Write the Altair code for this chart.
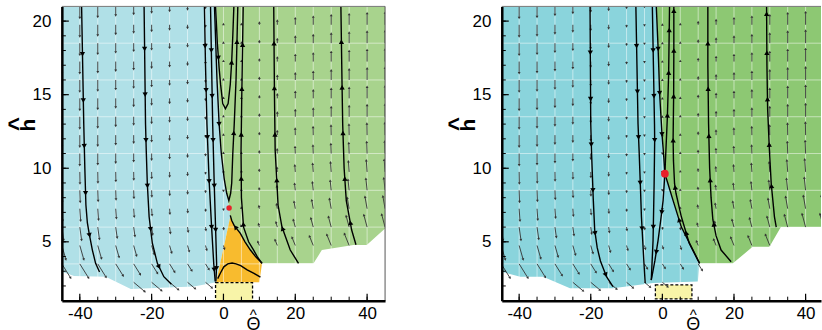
import math
import pandas as pd
import altair as alt

FONT = "Liberation Sans"
H_DOM = [1, 21]
PLOT_H = 295

# ---------------- left panel ----------------
L_XDOM = [-45, 45]
L_W = 324
L_BLUE = [(-45, 21), (-2.0, 21), (-1.4, 16), (-0.9, 13), (-0.5, 11), (0.3, 9.3), (1.0, 8.2), (1.6, 7.3),
          (1.9, 6.7), (0.1, 4.66), (-1.3, 3.1), (-2.0, 2.25), (-8.25, 1.96), (-15.6, 1.9), (-25.8, 1.8),
          (-32.8, 2.63), (-41.6, 2.68), (-45, 2.97)]
L_GREEN = [(-2.0, 21), (45, 21), (45, 5.9), (39.9, 4.78), (36.2, 4.78), (27.4, 4.44), (25.1, 3.54),
           (10.75, 3.54), (7.5, 4.44), (4.7, 5.57), (3.0, 6.1), (1.9, 6.7), (1.6, 7.3), (1.0, 8.2),
           (0.3, 9.3), (-0.5, 11), (-0.9, 13), (-1.4, 16)]
L_ORANGE = [(1.9, 6.7), (3.0, 6.1), (4.7, 5.57), (7.5, 4.44), (10.75, 3.54), (10.0, 2.25), (-2.0, 2.25),
            (-1.3, 3.1), (0.1, 4.66)]
L_BOX = [-2.2, 8.1, 1.0, 2.23]
L_SADDLE = [1.57, 7.3]
L_STREAMS = {
    "a1": [(-39.5, 21), (-39.2, 17), (-38.9, 13), (-38.6, 10), (-38.3, 7.5), (-37.9, 6.3), (-37.4, 5.57),
           (-36.5, 4.44), (-35.6, 3.54), (-34.5, 2.95)],
    "a2": [(-22.1, 21), (-21.9, 17), (-21.7, 13), (-21.5, 11.2), (-21.2, 8.95), (-20.7, 6.7), (-19.8, 4.9),
           (-18.4, 3.54), (-16.6, 2.63), (-14.5, 2.12)],
    "a3": [(-5.3, 21), (-5.0, 17), (-4.6, 13), (-4.0, 9.2), (-3.3, 6.0), (-2.7, 3.5), (-2.3, 2.3)],
    "a4": [(-3.6, 21), (-3.3, 17), (-3.0, 13), (-2.6, 9.2), (-2.2, 6.0), (-1.9, 3.5), (-2.1, 2.3)],
    "a5": [(-2.5, 21), (-1.8, 16), (-1.2, 13), (-0.6, 11), (0.2, 9.3), (0.9, 8.3), (1.5, 7.8), (2.0, 8.3),
           (2.3, 9.0), (2.6, 11), (3.0, 13), (3.5, 16), (4.0, 21)],
    "a6": [(-2.2, 21), (-1.7, 18.5), (-1.2, 16.8), (-0.8, 15.7), (-0.2, 14.4), (0.55, 14.05), (1.3, 14.4),
           (1.9, 15.7), (2.3, 17.3), (2.6, 19), (2.9, 21)],
    "a7": [(10.75, 3.54), (9.5, 3.95), (8.4, 4.44), (7.0, 5.0), (5.6, 6.0), (5.0, 8.0), (4.9, 11.2),
           (5.1, 15), (5.5, 21)],
    "a8": [(10.75, 3.54), (9.0, 3.98), (7.5, 4.44), (6.0, 5.0), (4.7, 5.57), (3.0, 6.1), (2.3, 6.45),
           (1.9, 6.8)],
    "a9": [(-1.6, 2.5), (-0.8, 2.9), (0.1, 3.3), (1.2, 3.5), (2.4, 3.56), (3.5, 3.5), (4.8, 3.38),
           (6.6, 3.1), (8.5, 2.85), (10.3, 2.6)],
    "a10": [(20.9, 3.54), (18.6, 4.44), (16.3, 6.0), (15.2, 7.5), (14.9, 8.95), (14.4, 11.2), (14.2, 15),
            (14.0, 21)],
    "a11": [(36.9, 4.8), (35.7, 5.8), (34.8, 7.0), (34.2, 7.8), (33.6, 10), (33.2, 13), (33.0, 16),
            (32.7, 21)],
}
L_HEADS = [("a1", 17.75), ("a1", 14.6), ("a1", 11.5), ("a1", 8.3), ("a1", 5.45),
           ("a2", 18.1), ("a2", 15.0), ("a2", 11.9), ("a2", 8.8), ("a2", 5.85), ("a2", 3.3),
           ("a3", 18.3), ("a3", 15.3), ("a3", 12.1), ("a3", 9.1), ("a3", 6.0), ("a3", 3.1),
           ("a4", 18.0), ("a4", 14.9), ("a4", 11.9), ("a4", 8.8), ("a4", 5.8), ("a4", 3.2),
           ("a5", 13.0, 0), ("a5", 12.4, 1), ("a5", 18.6, 1),
           ("a6", 17.5, 0), ("a6", 17.2, 1),
           ("a7", 6.2), ("a7", 9.3), ("a7", 12.3), ("a7", 15.4), ("a7", 18.4),
           ("a8", 6.0),
           ("a10", 5.9), ("a10", 9.2), ("a10", 12.3), ("a10", 15.45), ("a10", 18.5),
           ("a11", 6.3), ("a11", 9.3), ("a11", 12.4), ("a11", 15.5), ("a11", 18.6)]
L_LENS = [13, 13, 12, 10.5, 9, 7.5, 6, 4.5, 3, 2, 2, 3.5, 5.5, 8, 9.5, 11, 12, 13, 13.5]

# ---------------- right panel ----------------
R_XDOM = [-44.85, 44.3]
R_W = 320
R_BLUE = [(-44.85, 21), (-1.7, 21), (-1.2, 18.2), (-0.75, 15), (-0.1, 12.3), (0.5, 10.5), (0.7, 9.63),
          (3.0, 7.8), (5.3, 6.0), (8.1, 4.66), (10.4, 3.54), (9.9, 2.3), (-2.6, 2.2), (-13.8, 1.85),
          (-25.8, 1.85), (-33.3, 2.63), (-39.7, 2.63), (-44.85, 2.97)]
R_GREEN = [(-1.7, 21), (44.3, 21), (44.3, 6.0), (33.1, 6.0), (29.9, 4.66), (25.2, 4.66), (19.7, 3.54),
           (10.4, 3.54), (8.1, 4.66), (5.3, 6.0), (3.0, 7.8), (0.7, 9.63), (0.5, 10.5), (-0.1, 12.3),
           (-0.75, 15), (-1.2, 18.2)]
R_BOX = [-1.95, 8.25, 1.12, 2.07]
R_SADDLE = [0.7, 9.63]
R_STREAMS = {
    "b1": [(-20.2, 21), (-20.1, 17), (-20.0, 13), (-19.8, 11.2), (-19.3, 7.9), (-18.9, 5.8), (-18.2, 4.6),
           (-17.3, 3.7), (-15.6, 2.63), (-13.8, 1.96)],
    "b2": [(-7.4, 21), (-7.1, 17), (-6.8, 13), (-6.5, 11.2), (-6.1, 8.5), (-5.85, 6.7), (-5.2, 3.8),
           (-4.8, 2.2)],
    "b3": [(-2.8, 21), (-2.5, 17), (-2.2, 13), (-2.15, 11.9), (-2.3, 9.0), (-2.6, 5.1), (-3.1, 2.4)],
    "b4": [(-1.7, 21), (-1.2, 18.2), (-0.75, 15), (-0.1, 12.3), (0.4, 10.75), (0.7, 9.63)],
    "b5": [(0.7, 9.63), (0.2, 7.8), (-0.5, 6.4), (-1.2, 5.1), (-2.1, 3.7), (-3.1, 2.4)],
    "b6": [(0.7, 9.63), (0.9, 10.75), (1.4, 13.5), (1.75, 16.4), (2.0, 21)],
    "b7": [(10.4, 3.54), (8.1, 4.66), (5.3, 6.0), (3.0, 7.8), (1.5, 9.0), (0.7, 9.63)],
    "b8": [(10.4, 3.54), (9.9, 3.76), (7.5, 4.9), (5.3, 6.7), (3.8, 8.3), (3.4, 8.95), (3.1, 10.5),
           (3.0, 12), (3.15, 15), (3.2, 18), (3.2, 21)],
    "b9": [(19.2, 3.65), (16.4, 4.44), (15.0, 5.4), (14.1, 6.5), (13.6, 8), (13.2, 10), (12.9, 13),
           (12.7, 17), (12.7, 21)],
    "b10": [(31.8, 6.0), (31.3, 6.7), (30.4, 8.95), (29.9, 11.2), (29.4, 14), (29.2, 17), (29.1, 21)],
}
R_HEADS = [("b1", 17.85), ("b1", 14.7), ("b1", 11.6), ("b1", 8.5), ("b1", 5.57), ("b1", 2.75),
           ("b2", 18.3), ("b2", 15.2), ("b2", 12.1), ("b2", 9.0), ("b2", 5.9),
           ("b3", 18.0), ("b3", 14.9), ("b3", 11.9), ("b3", 6.0),
           ("b4", 18.1), ("b4", 15.1), ("b4", 12.3),
           ("b5", 7.0), ("b5", 4.3),
           ("b6", 13.6), ("b6", 16.5), ("b6", 19.4),
           ("b7", 6.5),
           ("b8", 5.6), ("b8", 8.7), ("b8", 11.9), ("b8", 14.9), ("b8", 18.0), ("b8", 20.7),
           ("b9", 6.2), ("b9", 9.2), ("b9", 12.2), ("b9", 15.4), ("b9", 18.5),
           ("b10", 8.8), ("b10", 11.6), ("b10", 14.7), ("b10", 17.85), ("b10", 20.5)]
R_LENS = [13, 13, 12, 10, 8, 6.5, 5, 3, 2, 1.5, 2, 4, 6, 8, 9.5, 11, 13, 14, 14]

# ---------------- vector field grid ----------------
COLS = [-45, -40, -35, -30, -25, -20, -15, -10, -5, 0, 5, 10, 15, 20, 25, 30, 35, 40, 45]
H_NODES = [1.0, 2.25, 3.5, 4.75, 6.0, 7.25, 8.5, 9.75, 11.0, 12.25, 13.5, 14.75, 16.0, 17.25, 18.5, 19.75, 21.0]
TILT_BLUE = [60, 50, 32, 16, 8, 4, 2, 1, 0, 0, 0, 0, 0, 0, 0, 0, 0]
EXTRA_BLUE = [8, 7, 5, 3, 1.5, 0.5, 0, 0, 0, 0, 0, 0, 0, 0, 0, 0, 0]
TILT_GREEN = [0, 0, 30, 22, 15, 10, 6, 4, 2, 1, 0, 0, 0, 0, 0, 0, 0]
EXTRA_GREEN = [0, 0, 3, 2, 1, 0.5, 0, 0, 0, 0, 0, 0, 0, 0, 0, 0, 0]

X_TICKS_MINOR = [-40, -35, -30, -25, -20, -15, -10, -5, 0, 5, 10, 15, 20, 25, 30, 35, 40]
X_TICKS_MAJOR = [-40, -20, 0, 20, 40]
Y_TICKS_MINOR = [2, 3, 4, 5, 6, 7, 8, 9, 10, 11, 12, 13, 14, 15, 16, 17, 18, 19, 20]
Y_TICKS_MAJOR = [5, 10, 15, 20]
V_GRID = [-40, -35, -30, -25, -20, -15, -10, -5, 0, 5, 10, 15, 20, 25, 30, 35, 40]
H_GRID = [3.5, 6, 8.5, 11, 13.5, 16, 18.5]

Y_TITLE = "h"
HAT = "^"
X_TITLE = "Θ"


def pip(x, y, poly):
    inside = False
    n = len(poly)
    for i in range(n):
        x1, y1 = poly[i]
        x2, y2 = poly[(i + 1) % n]
        if (y1 > y) != (y2 > y):
            xi = x1 + (y - y1) * (x2 - x1) / (y2 - y1)
            if x < xi:
                inside = not inside
    return inside


def field(xdom, lens, blue, green, sx, sy):
    shafts, heads = [], []
    for th, L0 in zip(COLS, lens):
        tx = min(max(th, xdom[0] + 0.05), xdom[1] - 0.05)
        for ri, h in enumerate(H_NODES):
            if pip(tx, h - 0.01, blue):
                L = L0 + EXTRA_BLUE[ri]
                t = math.radians(TILT_BLUE[ri])
                dxp, dyp = L * math.sin(t), L * math.cos(t)
            elif h < 21 and pip(tx, h + 0.01, green):
                L = L0 + EXTRA_GREEN[ri]
                t = math.radians(TILT_GREEN[ri])
                dxp, dyp = -L * math.sin(t), -L * math.cos(t)
            else:
                continue
            ux, uy = dxp / L, dyp / L
            ex, ey = dxp - 2.0 * ux, dyp - 2.0 * uy
            shafts.append({"x": th, "y": h, "x2": th + ex / sx, "y2": h - ey / sy})
            hx, hy = dxp - 1.3 * ux, dyp - 1.3 * uy
            heads.append({"x": th + hx / sx, "y": h - hy / sy,
                          "ang": math.degrees(math.atan2(dxp, -dyp)) % 360})
    return pd.DataFrame(shafts), pd.DataFrame(heads)


def stream_heads(streams, specs, sx, sy):
    out = []
    for spec in specs:
        sid, hh = spec[0], spec[1]
        k = spec[2] if len(spec) > 2 else 0
        pts = streams[sid]
        c = 0
        for (x1, y1), (x2, y2) in zip(pts[:-1], pts[1:]):
            if y1 != y2 and (y1 - hh) * (y2 - hh) <= 0:
                if c == k:
                    t = (hh - y1) / (y2 - y1)
                    dx = (x2 - x1) * sx
                    dy = -(y2 - y1) * sy
                    out.append({"x": x1 + t * (x2 - x1), "y": hh,
                                "ang": math.degrees(math.atan2(dx, -dy)) % 360})
                    break
                c += 1
    return pd.DataFrame(out)


def poly_df(poly):
    return pd.DataFrame({"x": [p[0] for p in poly], "y": [p[1] for p in poly], "i": list(range(len(poly)))})


def panel(xdom, W, blue, green, cblue, cgreen, orange, box, saddle, dot_size, streams, heads, lens, frame_right):
    sx = W / (xdom[1] - xdom[0])
    sy = PLOT_H / (H_DOM[1] - H_DOM[0])
    xs = alt.Scale(domain=xdom, nice=False, zero=False)
    ys = alt.Scale(domain=H_DOM, nice=False, zero=False)
    xaxis = alt.Axis(values=X_TICKS_MAJOR, title=None, grid=False, ticks=False, tickSize=0, labelPadding=5,
                     labelFontSize=17, labelFont=FONT, labelColor="black", domainColor="black",
                     domainWidth=2.5, labelExpr="'' + datum.value", zindex=1, labelFlush=False)
    yaxis = alt.Axis(values=Y_TICKS_MAJOR, title=None, grid=False, ticks=False, tickSize=0, labelPadding=11,
                     labelFontSize=17, labelFont=FONT, labelColor="black", domainColor="black",
                     domainWidth=2.5, zindex=1, labelFlush=False)
    X = alt.X("x:Q", scale=xs, axis=xaxis)
    Y = alt.Y("y:Q", scale=ys, axis=yaxis)

    layers = []
    for poly, col in [(blue, cblue), (green, cgreen)] + ([(orange, "#f8bb2e")] if orange else []):
        layers.append(alt.Chart(poly_df(poly)).mark_line(fill=col, strokeOpacity=0, fillOpacity=1)
                      .encode(x=X, y=Y, order="i:Q"))
    layers.append(alt.Chart(pd.DataFrame({"x": V_GRID})).mark_rule(color="white", opacity=0.5, strokeWidth=1)
                  .encode(x=X))
    layers.append(alt.Chart(pd.DataFrame({"y": H_GRID})).mark_rule(color="white", opacity=0.5, strokeWidth=1)
                  .encode(y=Y))
    layers.append(alt.Chart(pd.DataFrame({"x": [box[0]], "x2": [box[1]], "y": [box[2]], "y2": [box[3]]}))
                  .mark_rect(fill="#f8f4a8", stroke="black", strokeDash=[3, 2], strokeWidth=1.3)
                  .encode(x=X, x2="x2:Q", y=Y, y2="y2:Q"))
    shafts, vheads = field(xdom, lens, blue, green, sx, sy)
    layers.append(alt.Chart(shafts).mark_rule(color="#333333", strokeWidth=0.9, clip=True)
                  .encode(x=X, x2="x2:Q", y=Y, y2="y2:Q"))
    layers.append(alt.Chart(vheads).mark_point(shape="triangle-up", filled=True, color="#333333", size=8,
                                               opacity=1, clip=True)
                  .encode(x=X, y=Y, angle=alt.Angle("ang:Q", scale=None)))
    rows = []
    for sid, pts in streams.items():
        for i, (a, b) in enumerate(pts):
            rows.append({"sid": sid, "i": i, "x": a, "y": b})
    layers.append(alt.Chart(pd.DataFrame(rows)).mark_line(color="black", strokeWidth=1.4, clip=True)
                  .encode(x=X, y=Y, detail="sid:N", order="i:Q"))
    layers.append(alt.Chart(stream_heads(streams, heads, sx, sy))
                  .mark_point(shape="triangle-up", filled=True, color="black", size=28, opacity=1)
                  .encode(x=X, y=Y, angle=alt.Angle("ang:Q", scale=None)))
    layers.append(alt.Chart(pd.DataFrame({"x": [saddle[0]], "y": [saddle[1]]}))
                  .mark_point(filled=True, color="#e8202a", size=dot_size, opacity=1)
                  .encode(x=X, y=Y))
    layers.append(alt.Chart(pd.DataFrame({"x": X_TICKS_MINOR})).mark_rule(color="black", strokeWidth=1)
                  .encode(x=X, y=alt.value(PLOT_H), y2=alt.value(PLOT_H - 4)))
    layers.append(alt.Chart(pd.DataFrame({"x": X_TICKS_MAJOR})).mark_rule(color="black", strokeWidth=1.2)
                  .encode(x=X, y=alt.value(PLOT_H), y2=alt.value(PLOT_H - 7)))
    layers.append(alt.Chart(pd.DataFrame({"y": Y_TICKS_MINOR})).mark_rule(color="black", strokeWidth=1)
                  .encode(y=Y, x=alt.value(0), x2=alt.value(4)))
    layers.append(alt.Chart(pd.DataFrame({"y": Y_TICKS_MAJOR})).mark_rule(color="black", strokeWidth=1.2)
                  .encode(y=Y, x=alt.value(0), x2=alt.value(7)))
    layers.append(alt.Chart(pd.DataFrame({"k": [0]})).mark_rule(color="#777777", strokeWidth=1)
                  .encode(x=alt.value(0), x2=alt.value(W), y=alt.value(0)))
    if frame_right:
        layers.append(alt.Chart(pd.DataFrame({"k": [0]})).mark_rule(color="#555555", strokeWidth=1)
                      .encode(x=alt.value(W), y=alt.value(0), y2=alt.value(PLOT_H)))
    # axis titles: rotated bold h with its hat, and Theta with its hat
    layers.append(alt.Chart(pd.DataFrame({"t": [Y_TITLE]}))
                  .mark_text(angle=270, font=FONT, fontSize=21, fontWeight="bold", align="center",
                             baseline="alphabetic", color="black")
                  .encode(text="t:N", x=alt.value(-27), y=alt.value(119)))
    layers.append(alt.Chart(pd.DataFrame({"t": [HAT]}))
                  .mark_text(angle=270, font=FONT, fontSize=24, fontWeight="bold", align="center",
                             baseline="alphabetic", color="black")
                  .encode(text="t:N", x=alt.value(-36.8), y=alt.value(118)))
    layers.append(alt.Chart(pd.DataFrame({"t": [HAT]}))
                  .mark_text(font=FONT, fontSize=15, align="center", baseline="alphabetic", color="black")
                  .encode(text="t:N", x=alt.value(192), y=alt.value(314)))
    layers.append(alt.Chart(pd.DataFrame({"t": [X_TITLE]}))
                  .mark_text(font=FONT, fontSize=18, align="center", baseline="alphabetic", color="black")
                  .encode(text="t:N", x=alt.value(192), y=alt.value(324)))
    return alt.layer(*layers).properties(width=W, height=PLOT_H)


left = panel(L_XDOM, L_W, L_BLUE, L_GREEN, "#b0e0e7", "#a8d38d", L_ORANGE, L_BOX, L_SADDLE, 30,
             L_STREAMS, L_HEADS, L_LENS, True)
right = panel(R_XDOM, R_W, R_BLUE, R_GREEN, "#8ad4dc", "#8dc873", None, R_BOX, R_SADDLE, 60,
              R_STREAMS, R_HEADS, R_LENS, False)

chart = (alt.hconcat(left, right, spacing=60)
         .configure(padding={"left": 6, "top": 5, "right": 0, "bottom": 0})
         .configure_view(strokeWidth=0))

chart.save("out.html", embed_options={"renderer": "svg", "actions": False})
